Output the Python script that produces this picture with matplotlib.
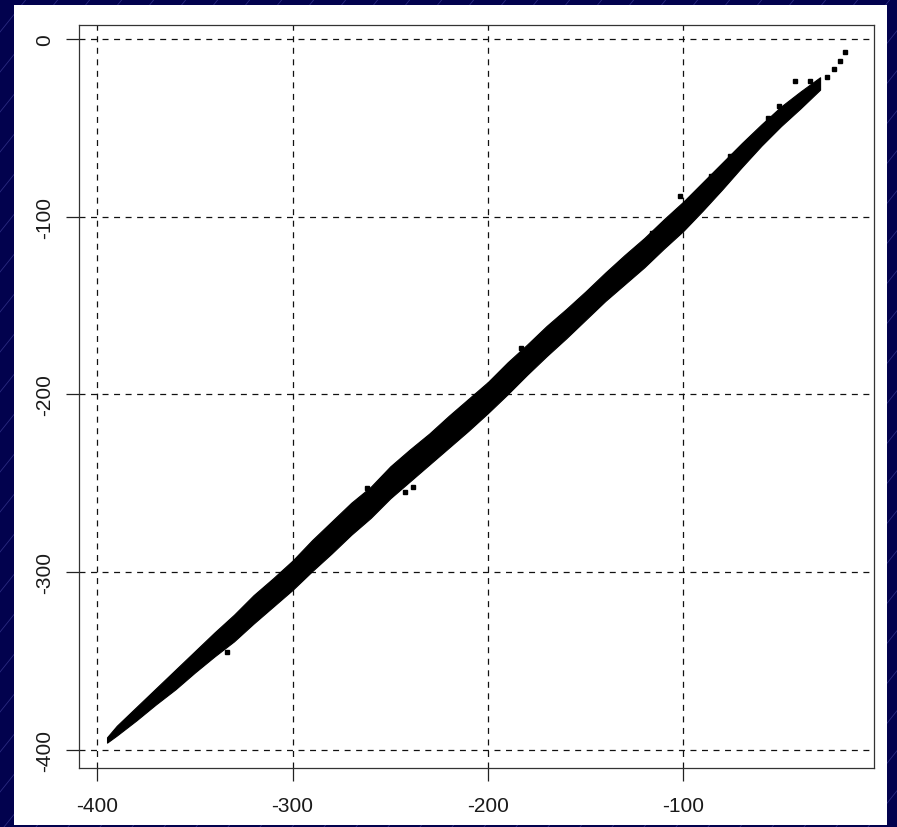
import matplotlib
matplotlib.use("Agg")
import matplotlib.pyplot as plt

plt.rcParams["font.family"] = ["Liberation Sans", "DejaVu Sans"]
plt.rcParams["lines.scale_dashes"] = False

# Dense point cloud, described by its lower and upper envelope along x
band_x = [-395, -390, -380, -370, -360, -350, -340, -330, -320, -310,
          -300, -290, -280, -270, -260, -250, -240, -230, -220, -210,
          -200, -190, -180, -170, -160, -150, -140, -130, -120, -110,
          -100, -90, -80, -70, -60, -50, -40, -30]
band_lo = [-396.0, -392.0, -383.5, -374.5, -366.0, -356.5, -347.5, -339.0,
           -329.0, -319.5, -310.0, -299.5, -289.5, -279.0, -269.5, -258.5,
           -249.0, -239.5, -230.0, -220.5, -210.5, -200.0, -189.0, -178.5,
           -168.5, -158.0, -147.5, -138.0, -128.5, -118.0, -108.0, -96.5,
           -84.5, -72.0, -60.0, -49.0, -39.0, -28.5]
band_hi = [-393.0, -386.5, -376.0, -365.5, -355.0, -344.5, -334.0, -324.0,
           -313.0, -303.5, -293.5, -282.0, -271.5, -261.0, -252.0, -240.5,
           -231.0, -222.0, -212.0, -202.5, -193.0, -182.0, -172.0, -161.5,
           -152.0, -142.0, -131.5, -121.5, -112.0, -101.5, -91.5, -80.5,
           -69.5, -58.5, -48.0, -38.0, -29.5, -21.5]

# Isolated points off the main cloud and at its upper tip
pts_x = [-333.7, -238.2, -242.4, -101.6, -76.0, -56.9, -50.8, -42.8, -35.0,
         -26.5, -23.1, -19.8, -17.1, -262.0, -183.0, -116.0, -86.0]
pts_y = [-345.1, -252.2, -255.0, -88.5, -65.7, -44.6, -37.9, -23.8, -23.5,
         -21.6, -16.9, -12.2, -7.5, -252.5, -174.0, -109.0, -77.0]

xticks = [-400, -300, -200, -100]
yticks = [0, -100, -200, -300, -400]

W, H = 897, 828
fig = plt.figure(figsize=(W / 100, H / 100), dpi=100)

# Navy backdrop with thin diagonal streaks
bg = fig.add_axes([0, 0, 1, 1])
bg.set_xlim(0, W)
bg.set_ylim(0, H)
bg.set_facecolor("#02024e")
bg.axis("off")
fig.patch.set_facecolor("#02024e")
for x0 in range(-H, W + 40, 32):
    bg.plot([x0, x0 + H * 0.8], [0, H], color="#3c3c96", lw=0.6, alpha=0.7)

# White page
page = fig.add_axes([14 / W, 2 / H, 873 / W, 820 / H])
page.set_facecolor("white")
page.set_xticks([])
page.set_yticks([])
for s in page.spines.values():
    s.set_visible(False)

ax = fig.add_axes([78.7 / W, 1 - 768.7 / H, (874 - 78.7) / W, (768.7 - 26) / H])
ax.set_facecolor("white")
ax.set_xlim(-409.5, -2.4)
ax.set_ylim(-410.1, 7.9)

for v in xticks:
    ax.axvline(v, color="#111111", lw=0.9, dashes=(4.3, 4.0), zorder=1)
for v in yticks:
    ax.axhline(v, color="#111111", lw=0.9, dashes=(4.3, 4.0), zorder=1)

ax.fill_between(band_x, band_lo, band_hi, color="black", lw=0.8,
                edgecolor="black", zorder=3)
ax.plot(pts_x, pts_y, ls="none", marker="s", ms=3.4, color="black", zorder=3)

ax.set_xticks(xticks)
ax.set_yticks(yticks)
ax.set_xticklabels([str(v) for v in xticks])
ax.set_yticklabels([str(v) for v in yticks], rotation=90, va="center")
ax.tick_params(axis="both", direction="out", length=9.4, width=0.9,
               color="#222222", labelsize=15, labelcolor="#1a1a1a")
ax.tick_params(axis="x", pad=11)
ax.tick_params(axis="y", pad=8)
for s in ax.spines.values():
    s.set_color("#333333")
    s.set_linewidth(0.9)

fig.savefig("out.png", dpi=100, facecolor=fig.get_facecolor())
